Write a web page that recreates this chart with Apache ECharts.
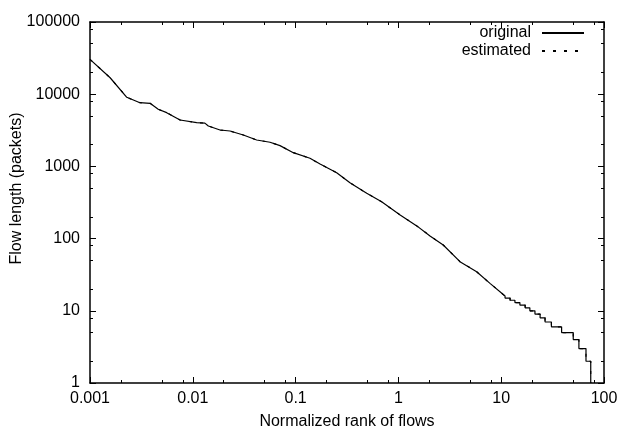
<!DOCTYPE html>
<html>
<head>
<meta charset="utf-8">
<script src="https://cdn.jsdelivr.net/npm/echarts@6/dist/echarts.min.js"></script>
<style>
  html, body { margin: 0; padding: 0; background: #fff; }
  #main { width: 621px; height: 429px; }
</style>
</head>
<body>
<div id="main"></div>
<script>
// smooth part of the curve: normalized rank -> flow length
var rank = [0.001, 0.00157, 0.00228, 0.00306, 0.00384, 0.00461, 0.00557, 0.00752,
  0.0109, 0.0131, 0.01416, 0.0184, 0.023, 0.031, 0.0418, 0.0564, 0.0705, 0.095,
  0.138, 0.173, 0.251, 0.338, 0.393, 0.492, 0.687, 1.04, 1.51, 2.03, 2.73, 3.97,
  5.77, 7.78, 10.9];
var flowLength = [30400, 16900, 9060, 7620, 7480, 6180, 5550, 4390,
  4030, 3980, 3630, 3190, 3090, 2720, 2320, 2160, 1940, 1550,
  1295, 1080, 818, 594, 519, 424, 324, 212, 150, 109, 81.5, 47.9,
  34.8, 24, 16];

// staircase tail: rank where the length drops to the next integer
var stepRank = [10.9, 12.2, 13.6, 15.2, 17.1, 19.0, 21.3, 23.9, 26.7, 30.8, 38.7, 50.2, 57.0, 66.8, 74.3];
var stepLength = [15, 14, 13, 12, 11, 10, 9, 8, 7, 6, 5, 4, 3, 2, 1];

// the estimate lies on top of the original everywhere
var estRank = rank;
var estLength = flowLength;
var estStepRank = stepRank;
var estStepLength = stepLength;

// axis ranges (decades)
var xDecades = [0.001, 0.01, 0.1, 1, 10];
var yDecades = [1, 10, 100, 1000, 10000];
var minorSteps = [2, 5, 8];

function build(xs, ys, sx, sy) {
  var pts = [];
  for (var i = 0; i < xs.length; i++) pts.push([xs[i], ys[i]]);
  var prev = ys[ys.length - 1];
  for (var j = 0; j < sx.length; j++) {
    pts.push([sx[j], prev]);
    pts.push([sx[j], sy[j]]);
    prev = sy[j];
  }
  return pts;
}

function minors(decades) {
  var out = [];
  decades.forEach(function (d) {
    minorSteps.forEach(function (m) { out.push(+(d * m).toPrecision(3)); });
  });
  return out;
}

var font = 'Liberation Sans, Arial, Helvetica, sans-serif';
var chart = echarts.init(document.getElementById('main'));

function fmt(v) { return String(+v.toPrecision(3)); }

var gridBox = { left: 90, right: 17, top: 22, bottom: 46, outerBoundsMode: 'none' };

function mainAxis(extra) {
  return Object.assign({
    type: 'log', logBase: 10, gridIndex: 0,
    axisLine: { lineStyle: { color: '#000', width: 1.5 } },
    axisTick: { inside: true, length: 6, lineStyle: { color: '#000', width: 1 } },
    splitLine: { show: false },
    axisLabel: { show: false }
  }, extra);
}

function minorAxis(extra, vals) {
  return Object.assign({
    type: 'log', logBase: 10, gridIndex: 1,
    axisLine: { show: false },
    axisTick: { inside: true, length: 3, customValues: vals, lineStyle: { color: '#000', width: 1 } },
    splitLine: { show: false },
    axisLabel: { show: false }
  }, extra);
}

var labelStyle = { fontSize: 16, color: '#000', fontFamily: font };

var option = {
  animation: false,
  backgroundColor: '#fff',
  grid: [gridBox, Object.assign({}, gridBox)],
  legend: {
    data: ['original', 'estimated'],
    orient: 'vertical',
    right: 31,
    top: 20,
    align: 'right',
    itemWidth: 42,
    itemHeight: 14,
    itemGap: 2,
    itemStyle: { opacity: 0 },
    textStyle: { fontSize: 16, color: '#000', fontFamily: font, padding: [0, 6, 0, 0] }
  },
  xAxis: [
    mainAxis({
      min: 0.001, max: 100, position: 'bottom',
      name: 'Normalized rank of flows', nameLocation: 'middle', nameGap: 31,
      nameTextStyle: labelStyle,
      axisLabel: Object.assign({ show: true, margin: 8, formatter: fmt }, labelStyle)
    }),
    mainAxis({ min: 0.001, max: 100, position: 'top' }),
    minorAxis({ min: 0.001, max: 100, position: 'bottom' }, minors(xDecades)),
    minorAxis({ min: 0.001, max: 100, position: 'top' }, minors(xDecades))
  ],
  yAxis: [
    mainAxis({
      min: 1, max: 100000, position: 'left',
      name: 'Flow length (packets)', nameLocation: 'middle', nameGap: 65, nameRotate: 90,
      nameMoveOverlap: false,
      nameTextStyle: Object.assign({ padding: [0, 0, 0, 28] }, labelStyle),
      axisLabel: Object.assign({ show: true, margin: 10, formatter: fmt }, labelStyle)
    }),
    mainAxis({ min: 1, max: 100000, position: 'right' }),
    minorAxis({ min: 1, max: 100000, position: 'left' }, minors(yDecades)),
    minorAxis({ min: 1, max: 100000, position: 'right' }, minors(yDecades))
  ],
  series: [
    {
      name: 'estimated',
      type: 'line',
      xAxisIndex: 0,
      yAxisIndex: 0,
      showSymbol: false,
      symbol: 'none',
      data: build(estRank, estLength, estStepRank, estStepLength),
      lineStyle: { color: '#000', width: 1.2, type: [3, 8] },
      itemStyle: { color: '#000' },
      z: 2
    },
    {
      name: 'original',
      type: 'line',
      xAxisIndex: 0,
      yAxisIndex: 0,
      showSymbol: false,
      symbol: 'none',
      data: build(rank, flowLength, stepRank, stepLength),
      lineStyle: { color: '#000', width: 1.2 },
      itemStyle: { color: '#000' },
      z: 3
    }
  ]
};

chart.setOption(option);
</script>
</body>
</html>
